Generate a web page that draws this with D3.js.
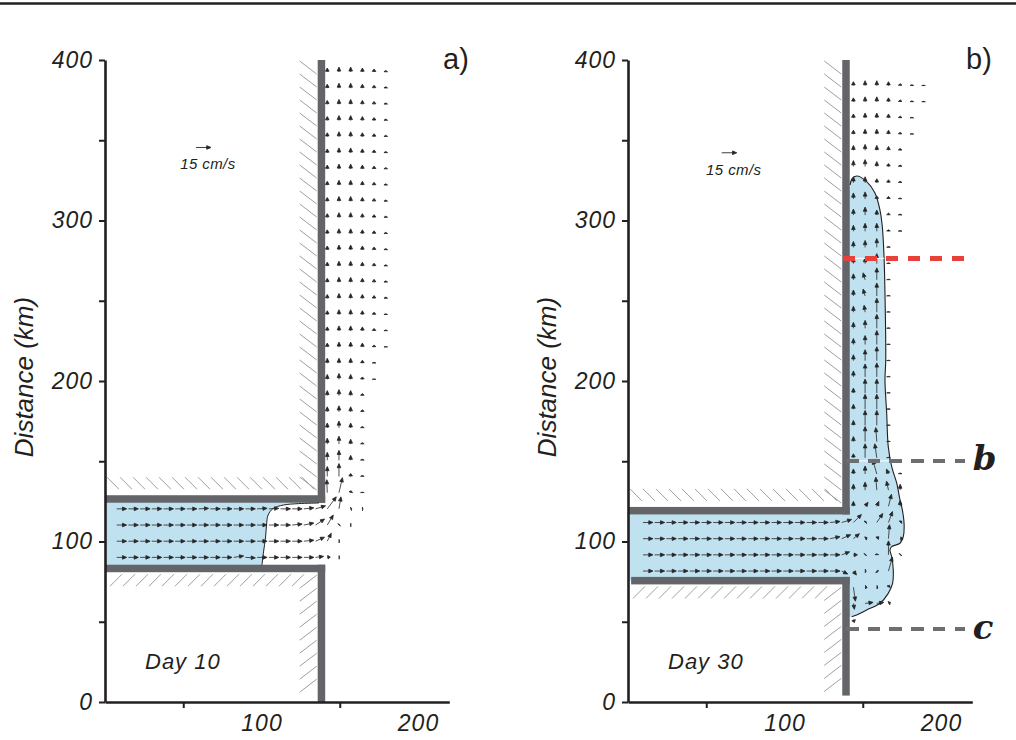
<!DOCTYPE html>
<html>
<head>
<meta charset="utf-8">
<script src="https://cdn.jsdelivr.net/npm/d3@7"></script>
<style>
  body { margin: 0; background: #fff; }
  svg text { fill: #231f20; }
  .tick text { font-family: "Liberation Sans", Arial, sans-serif; font-style: italic; font-size: 23px; letter-spacing: 1px; }
  .ylabel { font-family: "Liberation Sans", Arial, sans-serif; font-style: italic; font-size: 26px; }
  .panel-name { font-family: "Liberation Sans", Arial, sans-serif; font-size: 29px; }
  .day { font-family: "Liberation Sans", Arial, sans-serif; font-style: italic; font-size: 22px; letter-spacing: 1px; }
  .ref { font-family: "Liberation Sans", Arial, sans-serif; font-style: italic; font-size: 15px; letter-spacing: 0.4px; }
  .tag { font-family: "DejaVu Serif", serif; font-style: italic; font-weight: bold; font-size: 34px; }
</style>
</head>
<body>
<svg id="fig" width="1016" height="740"></svg>
<script>
var yTicks = [0, 50, 100, 150, 200, 250, 300, 350, 400];
var yLabels = [0, 100, 200, 300, 400];
var xTicks = [50, 100, 150, 200];
var xLabels = [100, 200];

var panelNames = ['a)', 'b)'];
var dayNames = ['Day 10', 'Day 30'];
var refSpeed = 15; // cm/s
var refLabel = '15 cm/s';

// coast geometry (km)
var coastX = [138.3, 139.3];
var chanTop = [126.5, 119.2];
var chanBot = [83.2, 75.6];
var coastEnd = [0, 4];

// day 10 front, top to bottom (x km, y km)
var frontA = [[136.7, 124.0], [123.8, 123.6], [113.9, 122.7], [107.3, 120.5], [104.2, 116.5],
  [103.2, 110.3], [102.6, 102.8], [101.3, 93.5], [100.3, 85.4]];

// day 30 plume edge, top to bottom
var plumeB = [[141.9, 322.1], [143.1, 325.9], [146.1, 327.7], [152.5, 324.2], [157.8, 317.1],
  [161.0, 306.5], [162.5, 296.1], [163.6, 277.4], [164.2, 254.8], [164.7, 213.1], [164.2, 200.6],
  [165.3, 179.9], [166.3, 159.1], [168.5, 146.6], [171.7, 136.3], [173.8, 125.9], [174.9, 121.7],
  [176.4, 111.3], [175.9, 103.0], [173.8, 98.9], [168.5, 96.8], [167.4, 94.7], [168.5, 90.5],
  [169.5, 82.2], [169.1, 74.0], [166.3, 67.7], [161.0, 61.5], [152.5, 57.3], [146.1, 54.2], [142.9, 53.1]];

// sections on day 30
var sectionY = [276.4, 150.2, 45.5];
var sectionTag = ['', 'b', 'c'];

// velocity grid (km)
var gridX0 = [0, 2.1];
var gridDX = [7.475, 7.47];
var gridY0 = [392.5, 384];
var gridDY = 10.08;

// day 10: channel rows j=27..30, columns i=1..22 (cm/s)
var chanUA = [
  [10,10,10,10,10,10,10,10,10,10,10,10,10,10,10,10,10,10,9,2,1,0.5],
  [10,10,10,10,10,10,10,10,10,10,10,10,10,10,10,10,10,9,6,0.5,0.3,0],
  [10,10,10,10,10,10,10,10,10,10,10,10,10,10,10,10,10,9,4,0.5,0,0],
  [10,10,10,10,10,10,10,10,10,10,10,10,10,10,10,10,10,8,3,0.5,0,0]
];
var chanVA = [
  [0,0,0,0,0,0,0,0.5,0,0,0,0,0.5,0.5,0,0,1,3,12,12,0.3,0],
  [0,0,0,0,0,0,0,0,0,0,0,0,0,0,0,1,2,6,10,0.5,0,0],
  [0,0,0,0,0,0,0,0,0,0,0,0,0,0,0,0,1,4,8,0,0,0],
  [0,0,0,0,0,0,0,0,0,0,1.5,-0.5,0,0,0,0,0,1,0.5,0,0,0]
];
// day 10: coastal rows j=0..26, columns i=19..24
var coastVA = [
  [4,5,5,4,3,1.5],[4,5,5,4,3,1.5],[4,5,5,4,3,1.5],[4,5,5,4,3,1.5],[4,5,5,4,3,1.5],
  [4,5,5,4,3,1.5],[4,5,5,4,3,1.5],[4,5,5,4,3,1.5],[4,5,5,4,3,1.5],[4,5,5,4,3,1.5],
  [4,5,5,4,3,1.5],[4,5,5,4,3,1.5],[4,5,5,4,3,1.5],[4,5,5,4,3,1.5],[4,5,5,4,3,1.5],
  [4,5,5,4,2.5,1],[4,5,5,4,2.5,1],[4,5,5,4,2,0.5],[5,5,5,3,1,0],[5,6,5,2.5,0.5,0],
  [5,6,5,2,0,0],[5,6,5,2,0,0],[5,7,5,1.5,0,0],[6,8,5,1.5,0,0],[8,10,5,1,0,0],
  [10,13,3,1,0,0],[13,15,2,0.5,0,0]
];
var coastUA = [
  [0,0,0,0,0,0],[0,0,0,0,0,0],[0,0,0,0,0,0],[0,0,0,0,0,0],[0,0,0,0,0,0],
  [0,0,0,0,0,0],[0,0,0,0,0,0],[0,0,0,0,0,0],[0,0,0,0,0,0],[0,0,0,0,0,0],
  [0,0,0,0,0,0],[0,0,0,0,0,0],[0,0,0,0,0,0],[0,0,0,0,0,0],[0,0,0,0,0,0],
  [0,0,0,0,0,0],[0,0,0,0,0,0],[0,0,0,0,0,0],[0,0,0,0,0,0],[0,0,0,0,0,0],
  [0,0,0,0,0,0],[0,0,0,0,0,0],[0,0,0,0,0,0],[0,0,0,0,0,0],[0,0,0,0,0,0],
  [0,0,0,0,0,0],[-0.5,3.5,0.5,0,0,0]
];

// day 30: channel rows j=27..33, columns i=1..23
var chanUB = [
  [10,10,10,10,10,10,10,10,10,10,10,10,10,10,10,10,10,10,8,1,6,4,1.5],
  [10,10,10,10,10,10,10,10,10,10,10,10,10,10,10,10,10,9,6,2,2,1,3],
  [10,10,10,10,10,10,10,10,10,10,10,10,10,10,10,10,10,8,4,0.5,0,0,0.5],
  [10,10,10,10,10,10,10,10,10,10,10,10,10,10,10,10,10,6,3,1,1,4,0],
  [0,0,0,0,0,0,0,0,0,0,0,0,0,0,0,0,0,0,2,2,1,1,0],
  [0,0,0,0,0,0,0,0,0,0,0,0,0,0,0,0,0,0,1,8,7,2,0],
  [0,0,0,0,0,0,0,0,0,0,0,0,0,0,0,0,0,0,1,0,0,0,0]
];
var chanVB = [
  [0,0,0,0,0,0,0,0,0,0,0,0,0,0,0,0,1,3,8,1,9,11,1.5],
  [0,0,0,0,0,0,0,0,0,0,0,0,0,0,0,0,2,4,5,1,2,14,0],
  [0,0,0,0,0,0,0,0,0,0,0,0,0,0,0,0,0,3,0,0.5,1,14,0.5],
  [0,0,0,0,0,0,0,0,0,0,0,0,0,0,0,0,0,-3,-4,0,-1,14,0],
  [0,0,0,0,0,0,0,0,0,0,0,0,0,0,0,0,0,0,-14,0,0,2,0],
  [0,0,0,0,0,0,0,0,0,0,0,0,0,0,0,0,0,0,-6,1,1,1,0],
  [0,0,0,0,0,0,0,0,0,0,0,0,0,0,0,0,0,0,-3,0,0,0,0]
];
// day 30: coastal rows j=0..26, columns i=19..25
var coastVB = [
  [4,5,5,4,2,1,0.5],[4,5,5,4,2,1,0.5],[4,5,5,4,2,0.8,0],[4,5,5,4,2,0.6,0],[5,6,5,4,2,0,0],
  [6,7,5,3,1.5,0,0],[6,6,4,3,1.5,0,0],[6,7,3,2.5,1,0,0],[6,8,5,2,1,0,0],[6,8,8,1.5,0.8,0,0],
  [6,7,9,1,0,0,0],[6,6,10,0.8,0,0,0],[6,7,12,0.6,0,0,0],[6,7,13,0.5,0,0,0],[6,7,14,0.5,0,0,0],
  [6,8,14,0.5,0,0,0],[6,9,14,0.5,0,0,0],[6,11,14,0.5,0,0,0],[6,13,14,0.5,0,0,0],[5,14,14,0.5,0,0,0],
  [5,15,15,0.5,0,0,0],[5,15,15,0.5,0,0,0],[5,15,14,0.5,0,0,0],[4,14,14,0.5,0,0,0],[5,8,14,5,1,0,0],
  [6,8,13,9,6,0,0],[5,4,5,12,6,0,0]
];
var coastUB = [
  [0,0,0,0,0,0,0],[0,0,0,0,0,0,0],[0,0,0,0,0,0,0],[0,0,0,0,0,0,0],[0,0,0,0,0,0,0],
  [0,0,0,0,0,0,0],[0,0,0,0,0,0,0],[0,0,0,0,0,0,0],[0,0,0,0,0,0,0],[0,0,0,0,0,0,0],
  [0,0,0,0,0,0,0],[0,0,0,0,0,0,0],[0,-2,0,0,0,0,0],[0,-2,0,0,0,0,0],[0,-1,0,0,0,0,0],
  [0,0,0,0,0,0,0],[0,0,0,0,0,0,0],[0,0,0,0,0,0,0],[0,0,0,0,0,0,0],[0,0,0,0,0,0,0],
  [0,0,0,0,0,0,0],[0,0,0,0,0,0,0],[0,0,-1,0,0,0,0],[0,0,-2,0,0,0,0],[0,0,-4,-2,0,0,0],
  [0,0,-1,-2,0,0,0],[0,3,2,3,0,0,0]
];

var fields = [
  [{ j0: 27, i0: 1, u: chanUA, v: chanVA }, { j0: 0, i0: 19, u: coastUA, v: coastVA }],
  [{ j0: 27, i0: 1, u: chanUB, v: chanVB }, { j0: 0, i0: 19, u: coastUB, v: coastVB }]
];

(function(d3) {
  'use strict';

  var ink = '#231f20', wallColor = '#636569', hatchColor = '#9d9fa2',
      water = '#bfe1f0', arrowColor = '#262626';
  var wallW = 7.5;
  var svg = d3.select('#fig');

  svg.append('line')
    .attr('x1', 0).attr('x2', 1016).attr('y1', 3.5).attr('y2', 3.5)
    .attr('stroke', ink).attr('stroke-width', 2.4);

  var speed = d3.scaleLinear().domain([0, refSpeed]).range([0, 15]);
  var curve = d3.line().curve(d3.curveCatmullRom.alpha(0.5));

  function arrowD(x0, y0, dx, dy) {
    var len = Math.sqrt(dx * dx + dy * dy);
    var ux = dx / len, uy = dy / len;
    var hl = Math.min(4.2, len * 0.8), hw = 1.8;
    var tx = x0 + dx, ty = y0 + dy;
    var bx = tx - ux * hl, by = ty - uy * hl;
    return 'M' + x0 + ',' + y0 + 'L' + bx + ',' + by +
      'M' + tx + ',' + ty + 'L' + (bx - uy * hw) + ',' + (by + ux * hw) +
      'L' + (bx + uy * hw) + ',' + (by - ux * hw) + 'Z';
  }

  // diagonal hatch lines along a wall
  function hatch(g, pts) {
    g.selectAll(null).data(pts).enter().append('line')
      .attr('x1', function(d) { return d[0]; }).attr('y1', function(d) { return d[1]; })
      .attr('x2', function(d) { return d[2]; }).attr('y2', function(d) { return d[3]; })
      .attr('stroke', hatchColor).attr('stroke-width', 1);
  }

  function drawPanel(p, left) {
    var xs = d3.scaleLinear().domain([0, 220]).range([left, left + 344.3]);
    var ys = d3.scaleLinear().domain([0, 400]).range([702, 60]);
    var g = svg.append('g');
    var cx = xs(coastX[p]), yT = ys(chanTop[p]), yB = ys(chanBot[p]);
    var h = wallW / 2;

    // hatching on the land side
    var hp = [], x, y;
    for (x = left + 2; x < cx - 14; x += 13) hp.push([x, yT - h - 18, x + 12, yT - h - 6]);
    for (y = ys(400) + 1; y < yT - h - 10; y += 13) hp.push([cx - h - 18, y, cx - h - 1, y + 13]);
    for (x = left + 5; x < cx - 22; x += 13) hp.push([x, yB + h + 14, x + 12, yB + h + 2]);
    for (y = yB + h + 3; y < ys(coastEnd[p]) - 12; y += 13) hp.push([cx - h - 18, y + 13, cx - h - 1, y]);
    hatch(g, hp);

    // water
    if (p === 0) {
      var fpx = frontA.map(function(d) { return [xs(d[0]), ys(d[1])]; });
      g.append('path')
        .attr('d', 'M' + xs(0) + ',' + yT + 'L' + cx + ',' + yT + 'L' + curve(fpx).slice(1) +
          'L' + fpx[fpx.length - 1][0] + ',' + yB + 'L' + xs(0) + ',' + yB + 'Z')
        .attr('fill', water);
    } else {
      var ppx = plumeB.map(function(d) { return [xs(d[0]), ys(d[1])]; });
      g.append('rect')
        .attr('x', xs(0)).attr('y', yT).attr('width', cx - xs(0)).attr('height', yB - yT)
        .attr('fill', water);
      g.append('path')
        .attr('d', 'M' + (cx - 1) + ',' + ppx[0][1] + 'L' + curve(ppx).slice(1) +
          'L' + (cx - 1) + ',' + ppx[ppx.length - 1][1] + 'Z')
        .attr('fill', water);
    }

    // walls
    var walls = [
      [cx - h, ys(400), wallW, yT + h - ys(400)],
      [xs(0), yT - h, cx + h - xs(0), wallW],
      [xs(p === 0 ? 0 : 2), yB - h, cx + h - xs(p === 0 ? 0 : 2), wallW],
      [cx - h, yB - h, wallW, ys(coastEnd[p]) - yB + h]
    ];
    g.selectAll(null).data(walls).enter().append('rect')
      .attr('x', function(d) { return d[0]; }).attr('y', function(d) { return d[1]; })
      .attr('width', function(d) { return d[2]; }).attr('height', function(d) { return d[3]; })
      .attr('fill', wallColor);

    // front / plume outline
    if (p === 0) {
      g.append('path').attr('d', curve(frontA.map(function(d) { return [xs(d[0]), ys(d[1])]; })))
        .attr('fill', 'none').attr('stroke', ink).attr('stroke-width', 1);
    } else {
      g.append('path').attr('d', curve(plumeB.map(function(d) { return [xs(d[0]), ys(d[1])]; })))
        .attr('fill', 'none').attr('stroke', ink).attr('stroke-width', 1.1);
    }

    // velocity vectors
    var vecs = [];
    fields[p].forEach(function(f) {
      f.u.forEach(function(row, r) {
        row.forEach(function(u, c) {
          var v = f.v[r][c];
          if (u === 0 && v === 0) return;
          vecs.push({
            x: xs(gridX0[p] + gridDX[p] * (f.i0 + c)),
            y: ys(gridY0[p] - gridDY * (f.j0 + r)),
            dx: speed(u), dy: -speed(v)
          });
        });
      });
    });
    g.append('g').selectAll('path').data(vecs).enter().append('path')
      .attr('d', function(d) { return arrowD(d.x, d.y, d.dx, d.dy); })
      .attr('fill', arrowColor).attr('stroke', arrowColor)
      .attr('stroke-width', 0.8).attr('stroke-linejoin', 'round');

    // sections (day 30)
    if (p === 1) {
      var edgeAt = function(yk) {
        for (var k = 1; k < plumeB.length; k++) {
          var a = plumeB[k - 1], b = plumeB[k];
          if ((a[1] - yk) * (b[1] - yk) <= 0) {
            return a[0] + (b[0] - a[0]) * (yk - a[1]) / (b[1] - a[1]);
          }
        }
        return coastX[p];
      };
      sectionY.forEach(function(yk, k) {
        var xe = edgeAt(yk);
        if (xe > coastX[p] + 3) {
          g.append('line').attr('x1', cx + h).attr('x2', xs(xe)).attr('y1', ys(yk)).attr('y2', ys(yk))
            .attr('stroke', '#fff').attr('stroke-width', 1);
        }
        g.append('line')
          .attr('x1', k === 0 ? cx - 3 : cx).attr('x2', xs(215.3))
          .attr('y1', ys(yk)).attr('y2', ys(yk))
          .attr('stroke', k === 0 ? '#e8403a' : '#6d6e71')
          .attr('stroke-width', k === 0 ? 4.6 : 4.3)
          .attr('stroke-dasharray', k === 0 ? '12,9.7' : '12.5,9.2')
          .attr('shape-rendering', 'crispEdges');
        if (sectionTag[k]) {
          g.append('text').attr('class', 'tag').attr('x', xs(220.3))
            .attr('y', ys(yk) + (k === 1 ? 9 : 10)).text(sectionTag[k]);
        }
      });
    }

    // reference arrow
    var rx = xs(p === 0 ? 58.1 : 59.9), ry = ys(p === 0 ? 345.5 : 342.2);
    g.append('path').attr('d', arrowD(rx, ry, speed(refSpeed), 0))
      .attr('fill', arrowColor).attr('stroke', arrowColor).attr('stroke-width', 0.9);
    g.append('text').attr('class', 'ref').attr('text-anchor', 'middle')
      .attr('x', rx + 12).attr('y', ry + 22).text(refLabel);

    // axes
    var ya = g.append('g').attr('transform', 'translate(' + left + ',0)').attr('color', ink)
      .call(d3.axisLeft(ys).tickValues(yTicks).tickSize(6).tickSizeOuter(0).tickPadding(6)
        .tickFormat(function(d) { return yLabels.indexOf(d) >= 0 ? d : ''; }));
    var xa = g.append('g').attr('transform', 'translate(0,702)').attr('color', ink)
      .call(d3.axisBottom(xs).tickValues(xTicks).tickSize(6).tickSizeOuter(0).tickPadding(7)
        .tickFormat(function(d) { return xLabels.indexOf(d) >= 0 ? d : ''; }));
    xa.selectAll('.tick').filter(function(d) { return xLabels.indexOf(d) >= 0; }).select('line').remove();
    [ya, xa].forEach(function(a) {
      a.select('.domain').attr('stroke-width', 2.6);
      a.selectAll('.tick line').attr('stroke-width', 2);
      a.selectAll('.tick text').attr('font-family', null).attr('font-size', null);
    });

    g.append('text').attr('class', 'ylabel').attr('text-anchor', 'middle')
      .attr('transform', 'translate(' + (left - 72) + ',377) rotate(-90)')
      .text('Distance (km)');

    g.append('text').attr('class', 'panel-name').attr('text-anchor', 'middle')
      .attr('x', left + 351).attr('y', 69).text(panelNames[p]);

    g.append('text').attr('class', 'day')
      .attr('x', left + 40).attr('y', 669).text(dayNames[p]);
  }

  drawPanel(0, 105);
  drawPanel(1, 628);
}(d3));
</script>
</body>
</html>
